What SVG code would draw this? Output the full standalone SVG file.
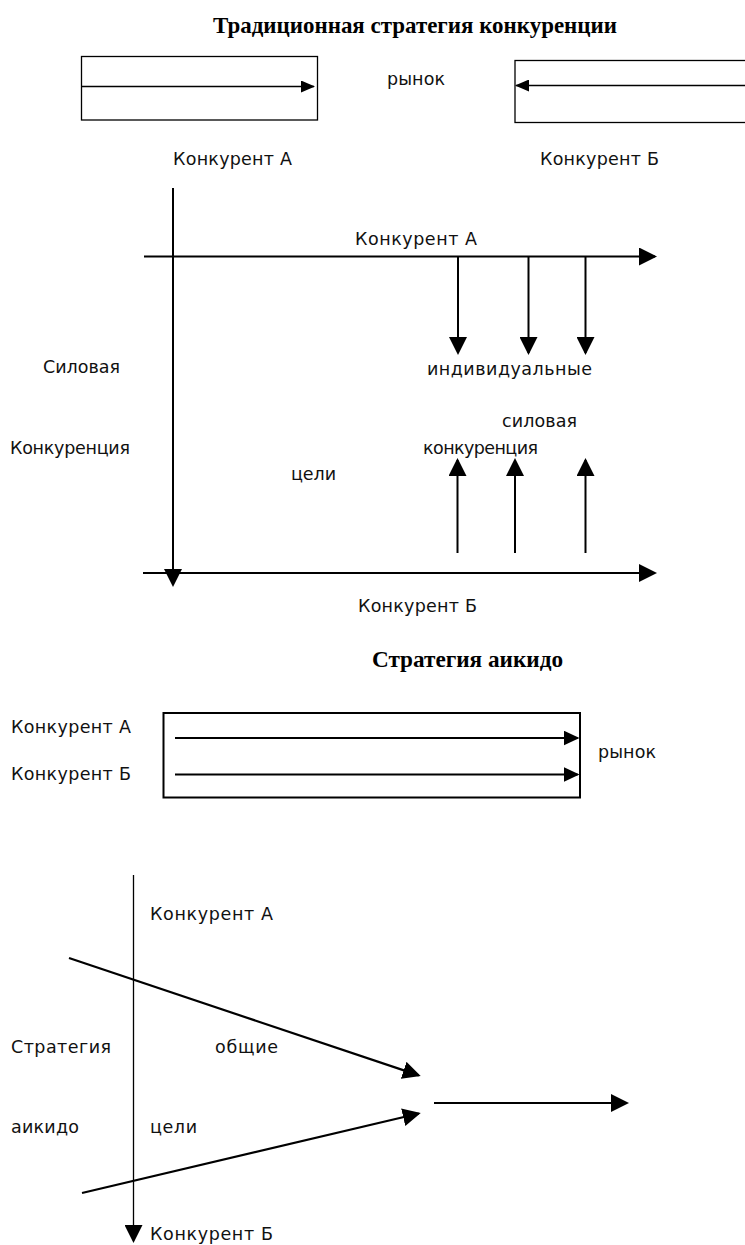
<svg xmlns="http://www.w3.org/2000/svg" width="745" height="1245" viewBox="0 0 745 1245">
<style>
.t{font-family:"DejaVu Sans","Liberation Sans",sans-serif;font-size:17.5px;fill:#111}
.h{font-family:"Liberation Serif","Times New Roman",serif;font-size:24px;font-weight:bold;fill:#000}
.box{fill:none;stroke:#000}
.c{fill:none;stroke:#000}
</style>
<defs>
<marker id="big" viewBox="0 0 18 18" markerWidth="18" markerHeight="18" refX="16" refY="9" orient="auto" markerUnits="userSpaceOnUse"><path d="M0,0 L18,9 L0,18 z" fill="#000"/></marker>
<marker id="mid" viewBox="0 0 16 15" markerWidth="16" markerHeight="15" refX="14" refY="7.5" orient="auto" markerUnits="userSpaceOnUse"><path d="M0,0 L16,7.5 L0,15 z" fill="#000"/></marker>
<marker id="sm" viewBox="0 0 14 12" markerWidth="14" markerHeight="12" refX="13" refY="6" orient="auto" markerUnits="userSpaceOnUse"><path d="M0,0 L14,6 L0,12 z" fill="#000"/></marker>
</defs>
<rect width="745" height="1245" fill="#fff"/>

<g id="title1"><text class="h" x="213" y="33" textLength="404" lengthAdjust="spacingAndGlyphs">Традиционная стратегия конкуренции</text></g>
<g id="boxA"><rect class="box" x="81.5" y="56.5" width="236" height="63.5" stroke-width="1.3"/></g>
<g id="boxB"><rect class="box" x="515" y="60.5" width="240" height="62" stroke-width="1.3"/></g>
<g id="market1"><text class="t" x="387" y="85" textLength="58">рынок</text></g>
<g id="compA1"><text class="t" x="173" y="165" textLength="119">Конкурент А</text></g>
<g id="compB1"><text class="t" x="540" y="165" textLength="119">Конкурент Б</text></g>

<g id="compA2"><text class="t" x="355" y="245" textLength="122">Конкурент А</text></g>
<g id="silovaya"><text class="t" x="43" y="373" textLength="77">Силовая</text></g>
<g id="individ"><text class="t" x="427" y="375" textLength="165">индивидуальные</text></g>
<g id="silovaya2"><text class="t" x="502" y="427" textLength="75">силовая</text></g>
<g id="konk1"><text class="t" x="10" y="454" textLength="120">Конкуренция</text></g>
<g id="konk2"><text class="t" x="423" y="453.5" textLength="115">конкуренция</text></g>
<g id="celi1"><text class="t" x="291" y="480" textLength="45">цели</text></g>
<g id="compB2"><text class="t" x="358" y="612" textLength="119">Конкурент Б</text></g>

<g id="title2"><text class="h" x="372" y="667" textLength="191" lengthAdjust="spacingAndGlyphs">Стратегия аикидо</text></g>
<g id="boxAikido"><rect class="box" x="163.5" y="713" width="416.5" height="84.5" stroke-width="2"/></g>
<g id="compA3"><text class="t" x="11" y="733" textLength="120">Конкурент А</text></g>
<g id="compB3"><text class="t" x="11" y="780" textLength="120">Конкурент Б</text></g>
<g id="market2"><text class="t" x="598" y="758" textLength="58">рынок</text></g>

<g id="compA4"><text class="t" x="150" y="920" textLength="123">Конкурент А</text></g>
<g id="strat"><text class="t" x="11" y="1053" textLength="100">Стратегия</text></g>
<g id="obshie"><text class="t" x="215" y="1053" textLength="63">общие</text></g>
<g id="aikido"><text class="t" x="11" y="1133" textLength="68">аикидо</text></g>
<g id="celi2"><text class="t" x="150" y="1133" textLength="47">цели</text></g>
<g id="compB4"><text class="t" x="150" y="1240" textLength="123">Конкурент Б</text></g>

<g id="connectors">
<line class="c" x1="81.5" y1="86.5" x2="314" y2="86.5" stroke-width="1.3" marker-end="url(#sm)"/>
<line class="c" x1="745" y1="85.5" x2="516" y2="85.5" stroke-width="1.3" marker-end="url(#sm)"/>

<line class="c" x1="173" y1="188" x2="173" y2="585" stroke-width="2" marker-end="url(#big)"/>
<line class="c" x1="144" y1="256.5" x2="655" y2="256.5" stroke-width="2" marker-end="url(#big)"/>
<line class="c" x1="458" y1="256.5" x2="458" y2="353" stroke-width="2" marker-end="url(#big)"/>
<line class="c" x1="528.5" y1="256.5" x2="528.5" y2="353" stroke-width="2" marker-end="url(#big)"/>
<line class="c" x1="585.5" y1="256.5" x2="585.5" y2="353" stroke-width="2" marker-end="url(#big)"/>
<line class="c" x1="457.5" y1="553" x2="457.5" y2="460" stroke-width="2" marker-end="url(#big)"/>
<line class="c" x1="515" y1="553" x2="515" y2="460" stroke-width="2" marker-end="url(#big)"/>
<line class="c" x1="585.5" y1="553" x2="585.5" y2="460" stroke-width="2" marker-end="url(#big)"/>
<line class="c" x1="143" y1="573" x2="655" y2="573" stroke-width="2" marker-end="url(#big)"/>

<line class="c" x1="175" y1="738" x2="577.5" y2="738" stroke-width="2" marker-end="url(#mid)"/>
<line class="c" x1="175" y1="774.5" x2="577.5" y2="774.5" stroke-width="2" marker-end="url(#mid)"/>

<line class="c" x1="133.5" y1="875" x2="133.5" y2="1241" stroke-width="1.3" marker-end="url(#big)"/>
<line class="c" x1="69" y1="958" x2="418.8" y2="1075.4" stroke-width="2.2" marker-end="url(#big)"/>
<line class="c" x1="82" y1="1193" x2="418.8" y2="1113.5" stroke-width="2.2" marker-end="url(#big)"/>
<line class="c" x1="434" y1="1103" x2="627" y2="1103" stroke-width="2.2" marker-end="url(#big)"/>
</g>
</svg>
